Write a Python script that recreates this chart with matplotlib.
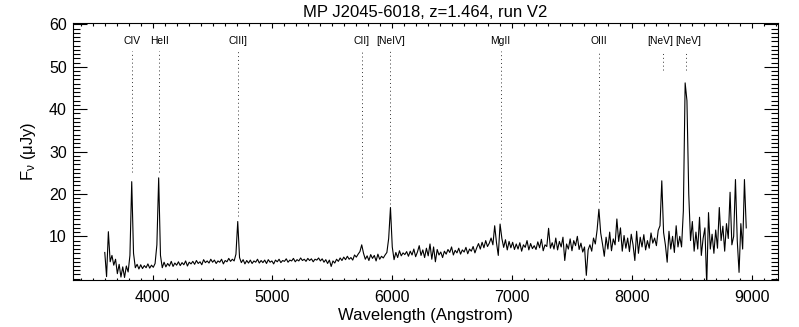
import numpy as np
import matplotlib
matplotlib.use("Agg")
import matplotlib.pyplot as plt
from matplotlib.ticker import MultipleLocator

plt.rcParams['font.family'] = ['Liberation Sans', 'DejaVu Sans']
plt.rcParams['mathtext.fontset'] = 'custom'
plt.rcParams['mathtext.rm'] = 'Liberation Sans'
plt.rcParams['mathtext.it'] = 'Liberation Sans'

title = "MP J2045-6018, z=1.464, run V2"

wave_start = 3600.0
wave_step = 15.0
flux = [
    6.2, 0.5, 11.1, 4.0, 5.5, 3.2, 4.6, 1.2, 3.4, 0.4,
    2.8, 0.3, 3.0, 1.6, 5.5, 22.9, 6.0, 2.6, 3.4, 2.3,
    3.3, 2.4, 3.1, 2.6, 3.5, 2.5, 3.2, 2.7, 3.6, 8.0,
    23.8, 5.5, 2.6, 3.9, 2.8, 3.6, 3.0, 4.1, 2.9, 3.7,
    3.2, 4.0, 3.1, 3.8, 3.3, 4.2, 3.0, 3.9, 3.5, 4.1,
    3.4, 4.3, 3.6, 4.0, 3.3, 4.5, 3.8, 4.2, 3.7, 4.6,
    3.9, 4.4, 3.6, 4.2, 3.9, 4.6, 3.5, 4.3, 4.0, 4.8,
    4.1, 4.6, 4.2, 5.8, 13.5, 5.0, 3.8, 4.5, 3.5, 4.3,
    3.7, 4.4, 3.6, 4.2, 3.9, 4.6, 3.7, 4.3, 3.8, 4.4,
    3.6, 4.5, 3.9, 4.2, 3.5, 4.4, 4.0, 4.6, 3.8, 4.3,
    4.1, 4.7, 3.9, 4.4, 4.2, 4.8, 4.0, 4.5, 4.2, 4.9,
    4.3, 4.6, 4.1, 4.8, 4.3, 4.7, 4.0, 4.6, 4.4, 4.9,
    4.2, 4.7, 3.9, 4.5, 3.6, 4.4, 2.9, 4.2, 3.7, 4.6,
    4.1, 4.9, 4.3, 5.1, 4.5, 5.3, 4.6, 5.0, 4.4, 5.6,
    5.1, 5.8, 6.4, 8.0, 6.0, 4.6, 5.4, 4.3, 5.7, 4.8,
    5.5, 4.2, 5.8, 4.6, 5.3, 4.9, 5.6, 6.2, 9.5, 16.8,
    7.5, 4.5, 6.2, 5.0, 6.6, 5.4, 6.1, 5.7, 6.4, 5.3,
    6.5, 5.6, 7.0, 5.2, 6.3, 7.8, 5.5, 6.8, 5.0, 7.2,
    5.4, 8.2, 4.6, 7.5, 4.0, 6.9, 5.6, 6.3, 5.0, 6.5,
    5.8, 6.9, 6.2, 7.5, 5.6, 6.7, 6.1, 7.2, 5.8, 6.8,
    6.3, 7.4, 5.9, 7.0, 6.5, 7.6, 6.1, 7.3, 8.3, 7.0,
    8.6, 7.3, 9.0, 7.6, 8.4, 9.6, 8.0, 12.5, 8.5, 5.5,
    12.9, 9.5, 7.4, 9.2, 6.8, 8.8, 7.3, 8.6, 6.9, 8.2,
    7.0, 8.5, 6.5, 8.0, 7.4, 9.0, 6.8, 8.3, 7.1, 7.8,
    6.9, 8.7, 7.3, 9.3, 6.6, 8.0, 7.6, 11.9, 7.2, 8.5,
    7.0, 9.6, 6.8, 8.8, 7.5, 9.8, 4.3, 8.2, 7.0, 9.4,
    6.6, 9.0, 7.8, 10.0, 6.9, 8.4, 6.3, 7.5, 0.8, 6.8,
    8.0, 6.5, 9.6, 8.2, 11.5, 16.4, 10.8, 8.2, 5.3, 9.8,
    7.0, 11.0, 6.6, 9.4, 8.0, 14.1, 8.8, 12.0, 6.5, 10.2,
    7.2, 9.6, 6.4, 10.5, 8.0, 4.3, 11.2, 6.0, 9.8, 7.5,
    10.4, 6.8, 9.0, 7.2, 10.8, 8.4, 9.6, 7.8, 11.4, 12.5,
    23.1, 10.9, 8.0, 3.9, 11.2, 7.0, 10.0, 6.2, 12.5, 7.5,
    10.0, 7.5, 16.0, 46.2, 42.0, 20.0, 9.0, 13.5, 6.5, 11.0,
    7.0, 14.5, 5.5, 9.5, 12.0, -1.5, 15.6, 7.0, 10.5, 6.0,
    11.5, 7.2, 16.8, 9.0, 12.4, 6.5, 13.0, 9.5, 20.4, 8.0,
    10.0, 23.4, 9.0, 1.5, 13.0, 7.0, 23.4, 12.0,
]

# emission line markers (observed wavelength, bottom of dotted line)
line_names = ['CIV', 'HeII', 'CIII]', 'CII]', '[NeIV]', 'MgII', 'OIII', '[NeV]', '[NeV]']
line_waves = [3827, 4053, 4712, 5745, 5983, 6905, 7723, 8257, 8449]
line_bottoms = [25.1, 25.1, 14.9, 19.2, 17.6, 14.1, 18.0, 49.2, 49.2]
line_top = 53.7
label_y = 56.1
# small sideways nudge (points) so the two [NeV] labels just touch
label_nudge = [0, 0, 0, 0, 0, 0, 0, -1.8, 1.8]

wave = wave_start + wave_step * np.arange(len(flux))

fig = plt.figure(figsize=(7.99, 3.27), dpi=100)
ax = fig.add_axes([0.0914, 0.1437, 0.8823, 0.7869])

ax.plot(wave, flux, color='black', lw=0.8)

for name, w, b, dx in zip(line_names, line_waves, line_bottoms, label_nudge):
    ax.plot([w, w], [b, line_top], color='#333333', lw=0.7, linestyle=(0, (1, 3)))
    ax.annotate(name, xy=(w, label_y), xytext=(dx, 0), textcoords='offset points',
                ha='center', va='center', fontsize=7.4)

ax.set_xlim(3335, 9220)
ax.set_ylim(-0.3, 60.4)
ax.set_yticks([10, 20, 30, 40, 50, 60])
ax.xaxis.set_major_locator(MultipleLocator(1000))
ax.xaxis.set_minor_locator(MultipleLocator(100))
ax.yaxis.set_minor_locator(MultipleLocator(1))

ax.tick_params(which='both', direction='in', top=True, right=True, width=0.8)
ax.tick_params(axis='x', which='major', length=3.6, pad=7.5, labelsize=11.5)
ax.tick_params(axis='x', which='minor', length=1.8)
ax.tick_params(axis='y', which='major', length=10, pad=4.5, labelsize=11.5)
ax.tick_params(axis='y', which='minor', length=5)
for s in ax.spines.values():
    s.set_linewidth(0.8)

ax.set_xlabel('Wavelength (Angstrom)', fontsize=12, labelpad=2)
ax.set_ylabel(r'F$_{\nu}$ ($\mu$Jy)', fontsize=12, labelpad=8)
ax.set_title(title, fontsize=12, pad=4)

fig.savefig('out.png', dpi=100)
